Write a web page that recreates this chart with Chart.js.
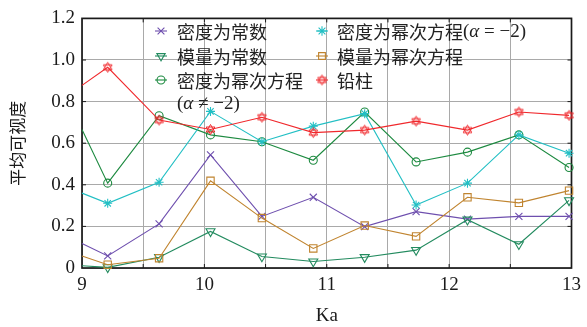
<!DOCTYPE html>
<html>
<head>
<meta charset="utf-8">
<script src="https://cdn.jsdelivr.net/npm/chart.js@4"></script>
<style>
  html, body { margin: 0; padding: 0; background: #fff; }
</style>
</head>
<body>
<canvas id="chart" width="587" height="327"></canvas>
<script>
// Ka values (first entry is where the curves enter the plot at x = 9)
const ka = [9, 9.21, 9.63, 10.05, 10.47, 10.89, 11.31, 11.73, 12.15, 12.57, 12.98];

const miduConst   = [0.118, 0.058, 0.212, 0.544, 0.248, 0.340, 0.199, 0.271, 0.235, 0.248, 0.248];
const moliangConst = [0.011, 0.003, 0.052, 0.176, 0.055, 0.031, 0.052, 0.086, 0.232, 0.114, 0.325];
const miduPowNe   = [0.666, 0.408, 0.732, 0.640, 0.607, 0.518, 0.750, 0.510, 0.557, 0.640, 0.483];
const miduPowEq   = [0.360, 0.311, 0.412, 0.753, 0.607, 0.682, 0.742, 0.303, 0.408, 0.640, 0.552];
const moliangPow  = [0.058, 0.016, 0.047, 0.419, 0.240, 0.094, 0.204, 0.152, 0.340, 0.313, 0.372];
const qianzhu     = [0.878, 0.965, 0.711, 0.666, 0.725, 0.651, 0.663, 0.706, 0.663, 0.750, 0.734];

const yTicks = [0, 0.2, 0.4, 0.6, 0.8, 1.0, 1.2];
const xTicks = [9, 10, 11, 12, 13];

const SERIF = '"Liberation Serif", "DejaVu Serif", serif';
const CJK = '"Noto Sans CJK SC", sans-serif';

// hexagram marker for 铅柱
function hexagram(color) {
    const c = document.createElement('canvas');
    c.width = c.height = 13;
    const g = c.getContext('2d');
    g.strokeStyle = color;
    g.lineWidth = 1;
    for (const rot of [0, Math.PI]) {
        g.beginPath();
        for (let k = 0; k < 3; k++) {
            const a = rot - Math.PI / 2 + k * 2 * Math.PI / 3;
            const px = 6.5 + 5 * Math.cos(a), py = 6.5 + 5 * Math.sin(a);
            k ? g.lineTo(px, py) : g.moveTo(px, py);
        }
        g.closePath();
        g.stroke();
    }
    return c;
}

const colors = {
    purple: '#6e4fae',
    tri: '#238b5f',
    circ: '#1d8a40',
    cyan: '#22bfc4',
    brown: '#c0842f',
    red: '#f0282c'
};

function series(data, color, style, radius, rotation) {
    return {
        data: data.map((v, i) => ({ x: ka[i], y: v })),
        borderColor: color,
        borderWidth: 1.1,
        pointStyle: style,
        pointRotation: rotation || 0,
        pointRadius: ctx => ctx.dataIndex === 0 ? 0 : radius,
        pointBorderColor: color,
        pointBackgroundColor: 'rgba(0,0,0,0)',
        pointBorderWidth: 1.1,
        tension: 0,
        clip: false
    };
}

const star6 = hexagram(colors.red);
const datasets = [
    series(qianzhu, colors.red, star6, 5),
    series(miduPowEq, colors.cyan, 'star', 4.5),
    series(miduPowNe, colors.circ, 'circle', 4),
    series(moliangPow, colors.brown, 'rect', 5.2),
    series(moliangConst, colors.tri, 'triangle', 5.2, 180),
    series(miduConst, colors.purple, 'crossRot', 5)
];

const legendItems = [
    { ds: 5, col: 0, row: 0, runs: [['密度为常数', CJK]] },
    { ds: 4, col: 0, row: 1, runs: [['模量为常数', CJK]] },
    { ds: 2, col: 0, row: 2, runs: [['密度为幂次方程', CJK]] },
    { ds: 1, col: 1, row: 0, runs: [['密度为幂次方程', CJK], ['(', SERIF], ['α', 'italic ' + SERIF], [' = −2)', SERIF]] },
    { ds: 3, col: 1, row: 1, runs: [['模量为幂次方程', CJK]] },
    { ds: 0, col: 1, row: 2, runs: [['铅柱', CJK]] }
];

function drawRuns(ctx, runs, x, y) {
    for (const [t, f] of runs) {
        const font = f.startsWith('italic') ? 'italic 19px ' + f.slice(7) : (f === CJK ? '18px ' + CJK : '19px ' + f);
        ctx.font = font;
        ctx.fillText(t, x, y);
        x += ctx.measureText(t).width;
    }
}

const framePlugin = {
    id: 'frame',
    beforeDatasetsDraw(chart) {
        const { ctx, chartArea: a, scales } = chart;
        ctx.save();
        ctx.strokeStyle = '#1a1a1a';
        ctx.lineWidth = 1;
        ctx.beginPath();
        for (let v = 9.5; v < 13; v += 0.5) {
            const px = scales.x.getPixelForValue(v);
            ctx.moveTo(px, a.bottom); ctx.lineTo(px, a.bottom - 4);
            ctx.moveTo(px, a.top); ctx.lineTo(px, a.top + 4);
        }
        for (const v of yTicks.slice(1, -1)) {
            const py = scales.y.getPixelForValue(v);
            ctx.moveTo(a.left, py); ctx.lineTo(a.left + 4, py);
            ctx.moveTo(a.right, py); ctx.lineTo(a.right - 4, py);
        }
        ctx.stroke();
        ctx.lineWidth = 1.7;
        ctx.strokeRect(a.left, a.top, a.right - a.left, a.bottom - a.top);
        ctx.restore();
    },
    afterDraw(chart) {
        const ctx = chart.ctx;
        const markX = [161, 322], textX = [177, 337], rowY = [31, 56, 80];
        ctx.save();
        ctx.textBaseline = 'middle';
        for (const it of legendItems) {
            const ds = chart.data.datasets[it.ds];
            const mx = markX[it.col], my = rowY[it.row];
            ctx.strokeStyle = ds.borderColor;
            ctx.lineWidth = 1.1;
            ctx.beginPath();
            ctx.moveTo(mx - 6, my); ctx.lineTo(mx + 6, my);
            ctx.stroke();
            ctx.fillStyle = 'rgba(0,0,0,0)';
            Chart.helpers.drawPoint(ctx, {
                pointStyle: ds.pointStyle,
                radius: ds.pointStyle === 'circle' ? 4 : 4.8,
                rotation: ds.pointRotation,
                borderWidth: 1.1
            }, mx, my);
            ctx.fillStyle = '#222';
            drawRuns(ctx, it.runs, textX[it.col], my + 1);
        }
        ctx.fillStyle = '#222';
        drawRuns(ctx, [['(', SERIF], ['α', 'italic ' + SERIF], [' ≠ −2)', SERIF]], 177, 104);
        ctx.restore();
    }
};

new Chart(document.getElementById('chart'), {
    type: 'line',
    data: { datasets },
    options: {
        responsive: false,
        animation: false,
        layout: { padding: { top: 13, right: 13, left: 0, bottom: 0 } },
        plugins: { legend: { display: false }, tooltip: { enabled: false } },
        scales: {
            x: {
                type: 'linear',
                min: 9, max: 13,
                afterFit: s => { s.height = 59; },
                afterBuildTicks: s => {
                    s.ticks = [];
                    for (let v = 9; v <= 13; v += 0.5) s.ticks.push({ value: v });
                },
                ticks: {
                    autoSkip: false,
                    maxRotation: 0,
                    padding: 6,
                    color: '#1a1a1a',
                    font: { family: SERIF, size: 19 },
                    callback: v => xTicks.includes(v) ? String(v) : ''
                },
                grid: { color: '#a9a9a9', lineWidth: 1, drawTicks: false },
                border: { display: false },
                title: {
                    display: true, text: 'Ka', color: '#1a1a1a',
                    font: { family: SERIF, size: 19 },
                    padding: { top: 0, bottom: 0 }
                }
            },
            y: {
                min: 0, max: 1.2,
                afterFit: s => { s.width = 82; },
                afterBuildTicks: s => { s.ticks = yTicks.map(v => ({ value: v })); },
                ticks: {
                    padding: 7,
                    color: '#1a1a1a',
                    font: { family: SERIF, size: 19 },
                    callback: v => v === 0 ? '0' : v.toFixed(1)
                },
                grid: { color: '#a9a9a9', lineWidth: 1, drawTicks: false },
                border: { display: false },
                title: {
                    display: true, text: '平均可视度', color: '#1a1a1a',
                    font: { family: CJK, size: 17 },
                    padding: { top: 7, bottom: 0 }
                }
            }
        }
    },
    plugins: [framePlugin]
});
</script>
</body>
</html>
